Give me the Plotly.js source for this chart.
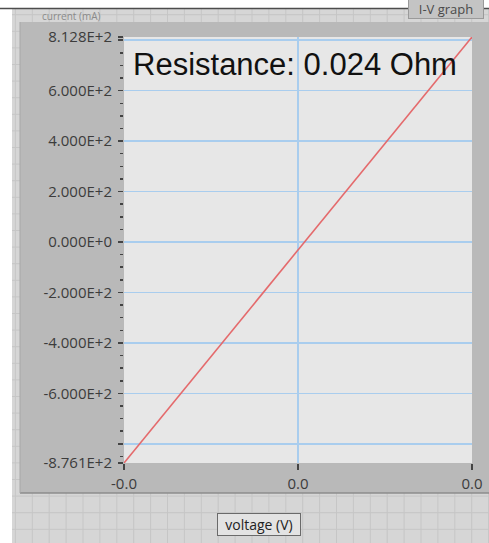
<!DOCTYPE html>
<html>
<head>
<meta charset="utf-8">
<script src="https://cdn.plot.ly/plotly-3.0.1.min.js"></script>
<style>
  html, body { margin: 0; padding: 0; background: #ffffff; }
  #graph { width: 489px; height: 543px; }
</style>
</head>
<body>
<div id="graph"></div>
<script>
// I-V sweep: voltage (V) and measured current (mA)
const voltage = [-0.02, -0.01, 0.0, 0.01, 0.02];
const current = [-876.1, -453.0, -32.0, 390.0, 812.8];

// Axis tick positions and their printed labels
const yTickVals = [-876.1, -800, -600, -400, -200, 0, 200, 400, 600, 800, 812.8];
const yTickText = ['-8.761E+2', '', '-6.000E+2', '-4.000E+2', '-2.000E+2', '0.000E+0',
                   '2.000E+2', '4.000E+2', '6.000E+2', '', '8.128E+2'];
const xTickVals = [-0.02, 0.0, 0.02];
const xTickText = ['-0.0', '0.0', '0.0'];

const resistanceText = 'Resistance: 0.024 Ohm';

// Page geometry (pixels) used for the panel decoration
const W = 489, H = 543;
const M = { l: 124, r: 17, t: 37, b: 80 };
const plotW = W - M.l - M.r, plotH = H - M.t - M.b;
const px = x => (x - M.l) / plotW;
const py = y => (H - M.b - y) / plotH;

const shapes = [];
function rect(x0, y0, x1, y1, fill, line) {
  shapes.push({
    type: 'rect', xref: 'paper', yref: 'paper', layer: 'below',
    x0: px(x0), x1: px(x1), y0: py(y1), y1: py(y0),
    fillcolor: fill, line: line || { width: 0 }
  });
}
function seg(x0, y0, x1, y1, color, width) {
  shapes.push({
    type: 'line', xref: 'paper', yref: 'paper', layer: 'below',
    x0: px(x0), x1: px(x1), y0: py(y0), y1: py(y1),
    line: { color: color, width: width }
  });
}

// front panel with its alignment grid
rect(12, 9, W + 5, H + 5, '#d6d6d6');
for (let gx = 15.4; gx < W + 2; gx += 16.9) seg(gx, 9, gx, H + 5, '#c6c6c6', 1);
for (let gy = 512.7 - 16.6 * 30; gy < H + 2; gy += 16.6) {
  if (gy > 9) seg(12, gy, W + 5, gy, '#c6c6c6', 1);
}
seg(0, 8.5, W + 5, 8.5, '#4d4d4d', 1.5);

// graph frame and plotting area
rect(20, 22, W + 8, 493, '#b9b9b9');
seg(20, 493, W + 8, 493, '#8c8c8c', 1.5);
seg(20, 22, 20, 493, '#a8a8a8', 1);
rect(M.l, M.t, W - M.r, H - M.b, '#e7e7e7');

const tickFont = { family: 'Open Sans, sans-serif', size: 15, color: '#3c3c3c' };
const gridBlue = '#a9cdee';

const layout = {
  width: W, height: H,
  margin: { l: M.l, r: M.r, t: M.t, b: M.b, pad: 0 },
  paper_bgcolor: '#ffffff',
  plot_bgcolor: 'rgba(0,0,0,0)',
  showlegend: false,
  shapes: shapes,
  xaxis: {
    range: [-0.02, 0.02],
    tickmode: 'array', tickvals: xTickVals, ticktext: xTickText,
    ticks: 'outside', ticklen: 6, tickwidth: 1.5, tickcolor: '#444444',
    ticklabelstandoff: 1,
    showgrid: false,
    zeroline: true, zerolinecolor: gridBlue, zerolinewidth: 1.5,
    showline: false,
    tickfont: tickFont,
    fixedrange: true
  },
  yaxis: {
    range: [-876.1, 812.8],
    tickmode: 'array', tickvals: yTickVals, ticktext: yTickText,
    ticks: 'outside', ticklen: 5, tickwidth: 1.5, tickcolor: '#444444',
    ticklabelstandoff: 3,
    minor: { tickmode: 'linear', tick0: 0, dtick: 50, ticks: 'outside', ticklen: 3,
             tickwidth: 1.5, tickcolor: '#444444', showgrid: false },
    showgrid: true, gridcolor: gridBlue, gridwidth: 1.5,
    zeroline: false, showline: false,
    tickfont: tickFont,
    fixedrange: true
  },
  annotations: [
    {
      xref: 'paper', yref: 'paper', x: px(131), y: py(64),
      xanchor: 'left', yanchor: 'middle', showarrow: false,
      text: resistanceText,
      font: { family: 'Liberation Sans, Arial, sans-serif', size: 31, color: '#111111' }
    },
    {
      xref: 'paper', yref: 'paper', x: px(258.5), y: py(524),
      xanchor: 'center', yanchor: 'middle', showarrow: false,
      text: 'voltage (V)', width: 82, height: 21,
      bgcolor: '#e3e3e3', bordercolor: '#6a6a6a', borderwidth: 1, borderpad: 0,
      font: { family: 'Open Sans, sans-serif', size: 14, color: '#222222' }
    },
    {
      xref: 'paper', yref: 'paper', x: px(446), y: py(19),
      xanchor: 'center', yanchor: 'bottom', showarrow: false,
      text: 'I-V graph', width: 74, height: 19,
      bgcolor: '#c4c4c4', bordercolor: '#9a9a9a', borderwidth: 1, borderpad: 0,
      font: { family: 'Open Sans, sans-serif', size: 13, color: '#4a4a4a' }
    },
    {
      xref: 'paper', yref: 'paper', x: px(40), y: py(15.5),
      xanchor: 'left', yanchor: 'middle', showarrow: false,
      text: 'current (mA)',
      font: { family: 'Open Sans, sans-serif', size: 10, color: '#8a8a8a' }
    }
  ]
};

const traces = [{
  type: 'scatter', mode: 'lines',
  x: voltage, y: current,
  line: { color: '#e46a6c', width: 1.6 },
  hoverinfo: 'x+y'
}];

Plotly.newPlot('graph', traces, layout, { displayModeBar: false, staticPlot: true });
</script>
</body>
</html>
